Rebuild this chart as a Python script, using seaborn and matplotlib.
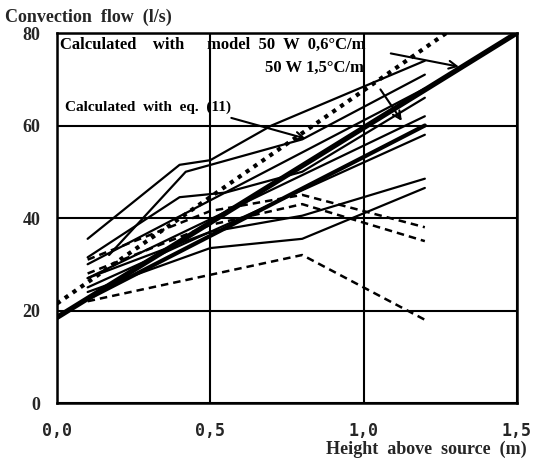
import numpy as np
import pandas as pd
import matplotlib
matplotlib.use("Agg")
import matplotlib.pyplot as plt
import seaborn as sns

# measured series (thin solid lines)
t1_x = [0.1, 0.4, 0.5, 0.7, 1.2]
t1_y = [35.5, 51.5, 52.5, 60, 74]
t2_x = [0.17, 0.42, 0.8, 1.2]
t2_y = [32, 50, 57, 71]
t3_x = [0.1, 0.4, 0.55, 0.8, 1.2]
t3_y = [31.5, 44.5, 45.5, 50, 66]
t4_x = [0.1, 1.2]
t4_y = [30, 68]
t5_x = [0.1, 1.2]
t5_y = [27, 62]
t6_x = [0.1, 0.5, 0.8, 1.2]
t6_y = [27, 37, 40.5, 48.5]
t7_x = [0.1, 0.5, 0.8, 1.2]
t7_y = [24, 33.5, 35.5, 46.5]
t8_x = [0.1, 1.2]
t8_y = [25, 58]

# measured series (dashed lines)
d1_x = [0.1, 0.5, 0.8, 1.2]
d1_y = [31, 41.5, 45, 38]
d2_x = [0.1, 0.5, 0.8, 1.2]
d2_y = [28, 38.5, 43, 35]
d3_x = [0.1, 0.8, 1.2]
d3_y = [22, 32, 18]

# calculated lines
model06_x = [0.0, 1.5]
model06_y = [18.5, 80]
model15_x = [0.1, 1.2]
model15_y = [22.5, 60]
eq11_x = [0.0, 1.27]
eq11_y = [21.5, 80]

x_ticks = [0.0, 0.5, 1.0, 1.5]
x_labels = ["0,0", "0,5", "1,0", "1,5"]
y_ticks = [0, 20, 40, 60, 80]

sns.set_style("white")
serif = ["Liberation Serif", "DejaVu Serif"]
plt.rcParams["font.family"] = serif

fig = plt.figure(figsize=(5.35, 4.61), dpi=100)
ax = fig.add_axes([0.1065, 0.1258, 0.8595, 0.8026])

thin = [(t1_x, t1_y), (t2_x, t2_y), (t3_x, t3_y), (t4_x, t4_y),
        (t5_x, t5_y), (t6_x, t6_y), (t7_x, t7_y), (t8_x, t8_y)]
for xs, ys in thin:
    sns.lineplot(x=xs, y=ys, ax=ax, color="black", lw=1.6, sort=False)

for xs, ys in [(d1_x, d1_y), (d2_x, d2_y), (d3_x, d3_y)]:
    sns.lineplot(x=xs, y=ys, ax=ax, color="black", lw=1.8, sort=False,
                 linestyle=(0, (3, 2)))

sns.lineplot(x=model06_x, y=model06_y, ax=ax, color="black", lw=3.8, sort=False)
sns.lineplot(x=model15_x, y=model15_y, ax=ax, color="black", lw=3.0, sort=False)
sns.lineplot(x=eq11_x, y=eq11_y, ax=ax, color="black", lw=3.0, sort=False,
             linestyle=(0, (1, 1.3)))

ax.set_xlim(0, 1.5)
ax.set_ylim(0, 80)
ax.set_xticks(x_ticks)
ax.set_xticklabels(x_labels, fontfamily=["DejaVu Sans Mono"],
                   fontweight="bold", fontsize=12)
ax.set_yticks(y_ticks)
ax.set_yticklabels([str(v) for v in y_ticks], fontweight="bold", fontsize=13)
ax.set_xticks([0.25, 0.75, 1.25], minor=True)
ax.set_yticks([10, 30, 50, 70], minor=True)
ax.tick_params(axis="both", which="major", direction="out", length=6, width=1.5,
               color="black", pad=6)
ax.tick_params(axis="both", which="minor", direction="out", length=4, width=1.5,
               color="black")
ax.tick_params(axis="x", which="major", pad=8)
ax.grid(True, which="major", color="black", lw=1.5)
for s in ax.spines.values():
    s.set_color("black")
    s.set_linewidth(1.8)

# annotations
tkw = dict(fontweight="bold", fontsize=12, color="black", va="center")
ax.text(0.01, 77.4, "Calculated    with", **tkw)
ax.text(0.49, 77.4, "model  50  W  0,6°C/m", **tkw)
ax.text(0.68, 72.4, "50 W 1,5°C/m", **tkw)
ax.text(0.025, 64, "Calculated  with  eq.  (11)", fontweight="bold", fontsize=11,
        color="black", va="center")
akw = dict(arrowstyle="->", color="black", lw=1.5, mutation_scale=14)
ax.annotate("", xy=(1.32, 72.6), xytext=(1.08, 75.7), arrowprops=akw)
ax.annotate("", xy=(1.13, 60.5), xytext=(1.05, 68.3), arrowprops=akw)
ax.annotate("", xy=(0.82, 57.0), xytext=(0.56, 61.8), arrowprops=akw)

fig.text(0.01, 0.962, "Convection  flow  (l/s)", fontweight="bold", fontsize=13,
         va="center", ha="left")
fig.text(0.985, 0.026, "Height  above  source  (m)", fontweight="bold", fontsize=13,
         va="center", ha="right")

fig.savefig("out.png", dpi=100, facecolor="white")
